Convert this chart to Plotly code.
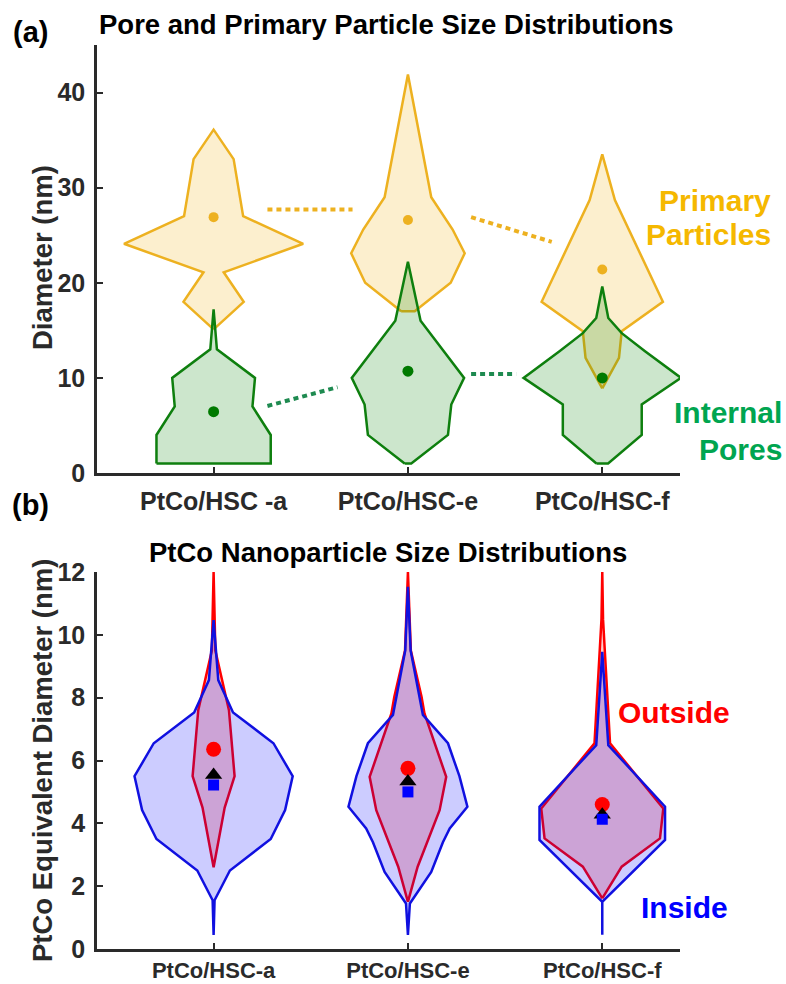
import plotly.graph_objects as go

W, H = 786, 984

# ---------------- data ----------------
positions = [1, 2, 3]
top_labels = ["PtCo/HSC -a", "PtCo/HSC-e", "PtCo/HSC-f"]
bot_labels = ["PtCo/HSC-a", "PtCo/HSC-e", "PtCo/HSC-f"]

# (a) primary particles: density profile (diameter levels, half widths)
pp_levels = [
    [15.1, 18.0, 21.1, 24.1, 27.0, 33.0, 36.1],
    [17.0, 20.0, 23.1, 25.6, 29.0, 41.9],
    [8.9, 12.1, 14.9, 18.0, 28.7, 33.5],
]
pp_width = [
    [0.0, 0.155, 0.052, 0.461, 0.152, 0.103, 0.0],
    [0.035, 0.22, 0.292, 0.23, 0.12, 0.0],
    [0.0, 0.086, 0.10, 0.312, 0.065, 0.0],
]
pp_mean = [26.9, 26.6, 21.4]

# (a) internal pores
ip_levels = [
    [1.0, 4.0, 7.0, 10.0, 13.0, 17.2],
    [1.0, 4.0, 7.2, 10.0, 16.0, 22.2],
    [1.0, 4.0, 7.2, 10.0, 12.8, 14.7, 16.3, 19.6],
]
ip_width = [
    [0.294, 0.294, 0.20, 0.213, 0.017, 0.0],
    [0.017, 0.206, 0.223, 0.289, 0.065, 0.0],
    [0.03, 0.203, 0.203, 0.405, 0.22, 0.10, 0.031, 0.0],
]
ip_mean = [6.45, 10.7, 10.0]

# dotted trend connectors (x, y pairs)
pp_link_x = [[1.277, 1.715], [2.325, 2.74]]
pp_link_y = [[27.7, 27.7], [26.9, 24.3]]
ip_link_x = [[1.277, 1.638], [2.325, 2.557]]
ip_link_y = [[7.05, 9.02], [10.4, 10.4]]

# (b) PtCo nanoparticles outside (red) and inside (blue)
out_levels = [
    [2.6, 4.5, 5.5, 7.6, 9.5, 12.0],
    [1.5, 2.62, 4.42, 5.48, 7.5, 8.03, 9.5, 12.0],
    [1.61, 2.62, 3.52, 4.47, 6.55, 9.5, 10.5, 12.0],
]
out_width = [
    [0.0, 0.057, 0.108, 0.079, 0.009, 0.0],
    [0.0, 0.05, 0.163, 0.197, 0.085, 0.07, 0.015, 0.0],
    [0.0, 0.10, 0.297, 0.314, 0.04, 0.013, 0.004, 0.0],
]
in_levels = [
    [0.45, 1.55, 2.5, 3.5, 4.42, 5.5, 6.55, 7.53, 8.56, 10.47],
    [0.45, 1.45, 2.45, 3.4, 3.84, 4.53, 5.5, 6.55, 7.45, 9.5, 11.53],
    [0.45, 1.5, 3.47, 4.53, 6.49, 9.46],
]
in_width = [
    [0.0, 0.005, 0.084, 0.294, 0.368, 0.407, 0.308, 0.10, 0.024, 0.0],
    [0.0, 0.01, 0.12, 0.18, 0.215, 0.306, 0.265, 0.206, 0.077, 0.014, 0.0],
    [0.0, 0.0, 0.323, 0.323, 0.031, 0.0],
]
out_mean = [6.36, 5.75, 4.6]
all_mean = [5.54, 5.33, 4.27]
in_mean = [5.22, 5.0, 4.13]

# ---------------- helpers ----------------
def violin_xy(center, levels, widths):
    xs = [center - w for w in widths] + [center + w for w in reversed(widths)]
    ys = list(levels) + list(reversed(levels))
    xs.append(xs[0])
    ys.append(ys[0])
    return xs, ys

fig = go.Figure()

ORANGE = "#EDB120"
GREEN = "#0E7F0E"
AX = "#2A2A2A"
LW = 2.5

# ---- panel (a)
for i, c in enumerate(positions):
    xs, ys = violin_xy(c, pp_levels[i], pp_width[i])
    fig.add_trace(go.Scatter(x=xs, y=ys, mode="lines", fill="toself",
                             fillcolor="rgba(240,180,30,0.22)",
                             line=dict(color=ORANGE, width=LW),
                             xaxis="x", yaxis="y", hoverinfo="skip"))
for i, c in enumerate(positions):
    xs, ys = violin_xy(c, ip_levels[i], ip_width[i])
    fig.add_trace(go.Scatter(x=xs, y=ys, mode="lines", fill="toself",
                             fillcolor="rgba(0,128,0,0.2)",
                             line=dict(color=GREEN, width=LW),
                             xaxis="x", yaxis="y", hoverinfo="skip"))
fig.add_trace(go.Scatter(x=positions, y=pp_mean, mode="markers",
                         marker=dict(color=ORANGE, size=10),
                         xaxis="x", yaxis="y"))
fig.add_trace(go.Scatter(x=positions, y=ip_mean, mode="markers",
                         marker=dict(color="#007A00", size=11),
                         xaxis="x", yaxis="y"))
for lx, ly in zip(pp_link_x, pp_link_y):
    fig.add_trace(go.Scatter(x=lx, y=ly, mode="lines",
                             line=dict(color=ORANGE, width=4, dash="5px,4px"),
                             xaxis="x", yaxis="y"))
for lx, ly in zip(ip_link_x, ip_link_y):
    fig.add_trace(go.Scatter(x=lx, y=ly, mode="lines",
                             line=dict(color="#1E8A50", width=4, dash="5px,4px"),
                             xaxis="x", yaxis="y"))

# ---- panel (b)
for i, c in enumerate(positions):
    xs, ys = violin_xy(c, out_levels[i], out_width[i])
    fig.add_trace(go.Scatter(x=xs, y=ys, mode="lines", fill="toself",
                             fillcolor="rgba(255,0,0,0.2)",
                             line=dict(color="#FF0000", width=LW),
                             xaxis="x2", yaxis="y2", hoverinfo="skip"))
for i, c in enumerate(positions):
    xs, ys = violin_xy(c, in_levels[i], in_width[i])
    fig.add_trace(go.Scatter(x=xs, y=ys, mode="lines", fill="toself",
                             fillcolor="rgba(0,0,255,0.2)",
                             line=dict(color="#1010E0", width=LW),
                             xaxis="x2", yaxis="y2", hoverinfo="skip"))
fig.add_trace(go.Scatter(x=positions, y=out_mean, mode="markers",
                         marker=dict(color="#FF0000", size=15),
                         xaxis="x2", yaxis="y2"))
fig.add_trace(go.Scatter(x=positions, y=all_mean, mode="markers",
                         marker=dict(color="#000000", size=15, symbol="triangle-up"),
                         xaxis="x2", yaxis="y2"))
fig.add_trace(go.Scatter(x=positions, y=in_mean, mode="markers",
                         marker=dict(color="#0000FF", size=11, symbol="square"),
                         xaxis="x2", yaxis="y2"))

# ---------------- layout ----------------
xdom = [97 / W, 680 / W]
ydom_a = [1 - 473 / H, 1 - 45 / H]
ydom_b = [1 - 949 / H, 1 - 572 / H]
tickfont = dict(family="Liberation Sans", size=25, color=AX, weight="bold")
tickfont_b = dict(family="Liberation Sans", size=22, color=AX, weight="bold")

common_axis = dict(showline=True, linecolor=AX, linewidth=2.5, mirror=False,
                   ticks="inside", ticklen=6, tickwidth=1.5, tickcolor=AX,
                   showgrid=False, zeroline=False, automargin=False)

fig.update_layout(
    width=W, height=H, margin=dict(l=0, r=0, t=0, b=0, autoexpand=False),
    paper_bgcolor="white", plot_bgcolor="white", showlegend=False,
    xaxis=dict(domain=xdom, range=[0.4, 3.4], anchor="y",
               tickvals=positions, ticktext=top_labels, ticklabelstandoff=4,
               tickfont=tickfont, **common_axis),
    yaxis=dict(domain=ydom_a, range=[0, 45], anchor="x",
               tickvals=[0, 10, 20, 30, 40], ticklabelstandoff=4,
               tickfont=tickfont, **common_axis),
    xaxis2=dict(domain=xdom, range=[0.4, 3.4], anchor="y2",
                tickvals=positions, ticktext=bot_labels, ticklabelstandoff=0,
                tickfont=tickfont_b, **common_axis),
    yaxis2=dict(domain=ydom_b, range=[0, 12], anchor="x2",
                tickvals=[0, 2, 4, 6, 8, 10, 12], ticklabelstandoff=4,
                tickfont=tickfont, **common_axis),
)

def ann(text, x, y, size, color, xanchor="center", angle=0):
    fig.add_annotation(text=text, x=x / W, y=1 - y / H, xref="paper", yref="paper",
                       showarrow=False, xanchor=xanchor, yanchor="middle",
                       textangle=angle,
                       font=dict(family="Liberation Sans", size=size, color=color,
                                 weight="bold"))

ann("(a)", 30, 32, 29, "#000000")
ann("(b)", 30, 505, 29, "#000000")
ann("Pore and Primary Particle Size Distributions", 386, 25, 27.5, "#000000")
ann("PtCo Nanoparticle Size Distributions", 388, 552, 27.5, "#000000")
ann("Diameter (nm)", 42, 258, 27.5, AX, angle=-90)
ann("PtCo Equivalent Diameter (nm)", 42, 761, 27.5, AX, angle=-90)
ann("Primary", 773, 200, 30, "#F5B800", xanchor="right")
ann("Particles", 773, 235, 30, "#F5B800", xanchor="right")
ann("Internal", 784, 413, 30, "#00A550", xanchor="right")
ann("Pores", 784, 450, 30, "#00A550", xanchor="right")
ann("Outside", 674, 712, 30, "#FF0000")
ann("Inside", 684, 907, 30, "#0000FF")

fig.write_html("out.html")
